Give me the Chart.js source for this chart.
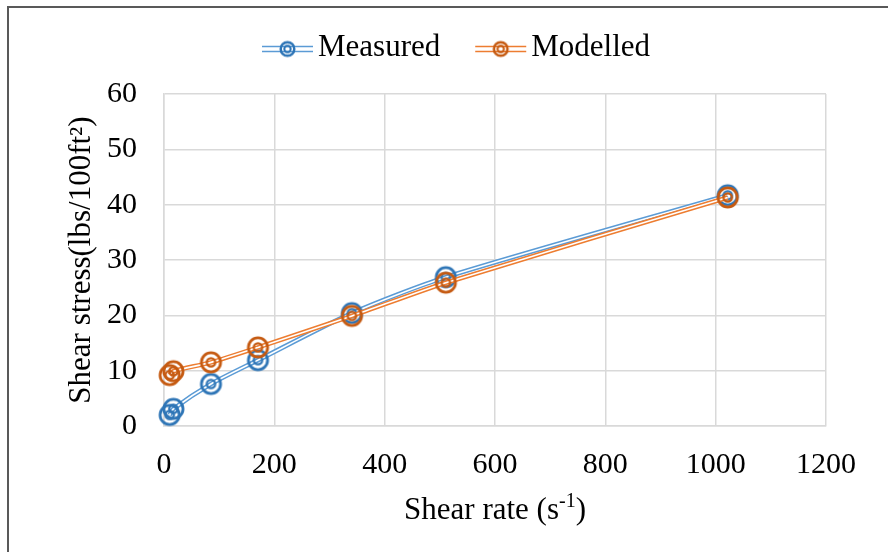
<!DOCTYPE html>
<html lang="en">
<head>
  <meta charset="UTF-8">
  <title>Shear stress vs shear rate</title>
  <script src="https://cdn.jsdelivr.net/npm/chart.js"></script>
  <style>
    body { margin: 0; background: #fff; overflow: hidden; }
    #wrap { position: relative; width: 888px; height: 552px; }
    #frame {
      position: absolute; left: 7px; top: 6px; width: 900px; height: 600px;
      border-left: 2px solid #595959; border-top: 2px solid #595959;
      pointer-events: none;
    }
    canvas { position: absolute; left: 0; top: 0; }
  </style>
</head>
<body>
<div id="wrap">
  <canvas id="chart" width="888" height="552"></canvas>
  <div id="frame"></div>
</div>

<script>
// data
const shearRate = [10.22, 17.03, 85.15, 170.3, 340.6, 510.9, 1021.8];
const measured = [2.0, 3.1, 7.6, 11.9, 20.4, 26.9, 41.7];
const modelled = [9.2, 9.9, 11.5, 14.2, 19.9, 25.9, 41.3];
const seriesNames = ['Measured', 'Modelled'];
const xTitle = ['Shear rate (s', '-1', ')'];   // middle part is superscript
const yTitle = 'Shear stress(lbs/100ft\u00B2)';

const lineColors = ['#5B9BD5', '#ED7D31'];
const markColors = ['#2E75B6', '#C55A11'];
const FONT = "'Liberation Serif', 'Times New Roman', serif";

// double ring marker
function ring(color, r1, r2, lw1, lw2) {
  const c = document.createElement('canvas');
  const s = Math.ceil((r1 + lw1) * 2) + 2;
  c.width = s; c.height = s;
  const g = c.getContext('2d');
  g.strokeStyle = color;
  g.lineWidth = lw1;
  g.beginPath(); g.arc(s / 2, s / 2, r1, 0, Math.PI * 2); g.stroke();
  g.lineWidth = lw2;
  g.beginPath(); g.arc(s / 2, s / 2, r2, 0, Math.PI * 2); g.stroke();
  return c;
}
const plotMarks = markColors.map(c => ring(c, 9.6, 4.2, 2.8, 2.3));
const legendMarks = markColors.map(c => ring(c, 6.8, 3.2, 2.5, 2));

function toXY(ys) {
  return shearRate.map((x, i) => ({ x: x, y: ys[i] }));
}

// each series = thick coloured line + thin white line on top => double line
const datasets = [];
[measured, modelled].forEach((ys, i) => {
  datasets.push({
    label: seriesNames[i],
    data: toXY(ys),
    borderColor: lineColors[i],
    borderWidth: 4.6,
    tension: 0.25,
    pointRadius: 0,
    order: 10 - i * 2,
    clip: false
  });
  datasets.push({
    label: seriesNames[i] + '_inner',
    data: toXY(ys),
    borderColor: '#ffffff',
    borderWidth: 1.6,
    tension: 0.25,
    pointStyle: plotMarks[i],
    pointRadius: 10,
    order: 9 - i * 2,
    clip: false
  });
});

// legend drawn like the Excel one (line + ring marker), x title with superscript
const excelText = {
  id: 'excelText',
  afterDraw(chart) {
    const ctx = chart.ctx;
    ctx.save();
    ctx.font = '31px ' + FONT;
    ctx.textBaseline = 'middle';
    ctx.fillStyle = '#000';
    let x = 262;
    const y = 49;
    seriesNames.forEach((name, i) => {
      ctx.strokeStyle = lineColors[i];
      ctx.lineWidth = 1.6;
      [-2.5, 2.5].forEach(d => {
        ctx.beginPath(); ctx.moveTo(x, y + d); ctx.lineTo(x + 51, y + d); ctx.stroke();
      });
      const m = legendMarks[i];
      ctx.drawImage(m, x + 25.5 - m.width / 2, y - m.height / 2);
      ctx.fillStyle = '#000';
      ctx.fillText(name, x + 56, y - 1);
      x += 56 + ctx.measureText(name).width + 35;
    });

    // x axis title
    const a = chart.chartArea;
    const big = '31px ' + FONT, small = '20px ' + FONT;
    ctx.textBaseline = 'alphabetic';
    ctx.font = big;
    const w0 = ctx.measureText(xTitle[0]).width;
    const w2 = ctx.measureText(xTitle[2]).width;
    ctx.font = small;
    const w1 = ctx.measureText(xTitle[1]).width;
    let tx = (a.left + a.right) / 2 - (w0 + w1 + w2) / 2;
    const base = 519;
    ctx.font = big;
    ctx.fillText(xTitle[0], tx, base); tx += w0;
    ctx.font = small;
    ctx.fillText(xTitle[1], tx, base - 12); tx += w1;
    ctx.font = big;
    ctx.fillText(xTitle[2], tx, base);
    ctx.restore();
  }
};

new Chart(document.getElementById('chart'), {
  type: 'line',
  data: { datasets },
  plugins: [excelText],
  options: {
    responsive: false,
    animation: false,
    layout: { padding: { top: 94, right: 62, bottom: 0, left: 0 } },
    plugins: { legend: { display: false }, tooltip: { enabled: false } },
    scales: {
      x: {
        type: 'linear',
        min: 0, max: 1200,
        ticks: { stepSize: 200, color: '#000', font: { family: FONT, size: 30 }, padding: 21, maxRotation: 0,
                 callback: v => String(v) },
        grid: { color: '#d9d9d9', lineWidth: 1.5, drawTicks: false },
        border: { color: '#d9d9d9', width: 1.5 },
        afterFit(s) { s.height = 552 - 426; }
      },
      y: {
        min: 0, max: 60,
        ticks: { stepSize: 10, color: '#000', font: { family: FONT, size: 30 }, padding: 27 },
        grid: { color: '#d9d9d9', lineWidth: 1.5, drawTicks: false },
        border: { color: '#d9d9d9', width: 1.5 },
        title: { display: true, text: yTitle, color: '#000', font: { family: FONT, size: 31 }, padding: { top: 63 } },
        afterFit(s) { s.width = 164; }
      }
    }
  }
});
</script>
</body>
</html>
